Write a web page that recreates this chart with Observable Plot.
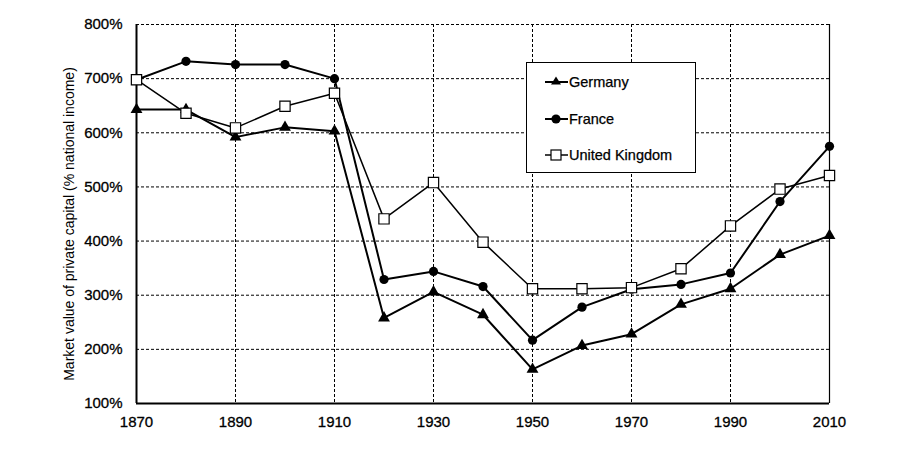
<!DOCTYPE html>
<html>
<head>
<meta charset="utf-8">
<script src="https://cdn.jsdelivr.net/npm/d3@7"></script>
<script src="https://cdn.jsdelivr.net/npm/@observablehq/plot@0.6"></script>
<style>
  html, body { margin: 0; padding: 0; background: #fff; }
  #wrap { position: relative; width: 900px; height: 450px; font-family: "Liberation Sans", Arial, sans-serif; }
  #legend { position: absolute; left: 526px; top: 62px; width: 168px; height: 109px; border: 1.5px solid #000; background: #fff; box-sizing: content-box; }
  .row { position: absolute; left: 18px; height: 20px; display: flex; align-items: center; font-size: 14.5px; color: #000; -webkit-text-stroke: 0.25px #000; }
  .row svg { margin-right: 1px; }
</style>
</head>
<body>
<div id="wrap"></div>
<script>
const years = [1870, 1880, 1890, 1900, 1910, 1920, 1930, 1940, 1950, 1960, 1970, 1980, 1990, 2000, 2010];
const germany = [643, 643, 592, 610, 603, 258, 306, 264, 163, 207, 228, 283, 312, 375, 410];
const france  = [698, 732, 726, 726, 700, 329, 344, 316, 217, 278, 311, 320, 341, 473, 575];
const uk      = [698, 636, 609, 649, 673, 441, 508, 398, 312, 312, 314, 349, 428, 496, 521];
const seriesNames = ["Germany", "France", "United Kingdom"];
const xTicks = [1870, 1890, 1910, 1930, 1950, 1970, 1990, 2010];
const yTicks = [100, 200, 300, 400, 500, 600, 700, 800];
const yLabel = "Market value of private capital (% national income)";

const toRows = (vals, name) => years.map((y, i) => ({year: y, value: vals[i], country: name}));
const gRows = toRows(germany, seriesNames[0]);
const fRows = toRows(france, seriesNames[1]);
const uRows = toRows(uk, seriesNames[2]);

const chart = Plot.plot({
  width: 900,
  height: 450,
  marginLeft: 136,
  marginRight: 71,
  marginTop: 24,
  marginBottom: 47,
  style: {fontFamily: "Liberation Sans, Arial, sans-serif", fontSize: "15px", color: "#000", background: "#fff"},
  x: {domain: [1870, 2010]},
  y: {domain: [100, 800]},
  marks: [
    Plot.gridX(xTicks, {stroke: "#000", strokeOpacity: 1, strokeWidth: 1, strokeDasharray: "3,2"}),
    Plot.gridY(yTicks, {stroke: "#000", strokeOpacity: 1, strokeWidth: 1, strokeDasharray: "3,2"}),
    Plot.axisX(xTicks, {tickSize: 0, tickPadding: 13, tickFormat: d => String(d), label: null, fontSize: 15}),
    Plot.axisY(yTicks, {tickSize: 0, tickPadding: 14, tickFormat: d => d + "%", label: null, fontSize: 15}),
    Plot.text([yLabel], {frameAnchor: "left", textAnchor: "middle", dx: -67, dy: 10, rotate: -90, fontSize: 14, fill: "#000"}),
    Plot.ruleX([2010], {stroke: "#000", strokeWidth: 1.2}),
    Plot.ruleX([1870], {stroke: "#000", strokeWidth: 2}),
    Plot.ruleY([100], {stroke: "#000", strokeWidth: 2}),
    Plot.lineY(gRows, {x: "year", y: "value", stroke: "#000", strokeWidth: 2}),
    Plot.lineY(fRows, {x: "year", y: "value", stroke: "#000", strokeWidth: 2}),
    Plot.lineY(uRows, {x: "year", y: "value", stroke: "#000", strokeWidth: 1.5}),
    Plot.dot(gRows, {x: "year", y: "value", symbol: "triangle", r: 4.4, fill: "#000", stroke: "none"}),
    Plot.dot(fRows, {x: "year", y: "value", symbol: "circle", r: 4.6, fill: "#000", stroke: "none"}),
    Plot.dot(uRows, {x: "year", y: "value", symbol: "square", r: 5.8, fill: "#fff", stroke: "#000", strokeWidth: 1.2})
  ]
});
d3.select(chart).selectAll("g[aria-label='x-axis tick label'] text, g[aria-label='y-axis tick label'] text")
  .attr("stroke", "#000").attr("stroke-width", 0.3);
document.getElementById("wrap").appendChild(chart);

// legend
const legend = document.createElement("div");
legend.id = "legend";
const symbols = [
  '<polygon points="11,4.5 16,12.5 6,12.5" fill="#000"/>',
  '<circle cx="11" cy="10" r="4.6" fill="#000"/>',
  '<rect x="6" y="5" width="10" height="10" fill="#fff" stroke="#000" stroke-width="1.2"/>'
];
const rowTops = [9, 46, 82];
seriesNames.forEach((name, i) => {
  const row = document.createElement("div");
  row.className = "row";
  row.style.top = rowTops[i] + "px";
  row.innerHTML = `<svg width="23" height="20"><line x1="0" y1="10" x2="23" y2="10" stroke="#000" stroke-width="${i === 2 ? 1.5 : 2}"/>${symbols[i]}</svg><span>${name}</span>`;
  legend.appendChild(row);
});
document.getElementById("wrap").appendChild(legend);
</script>
</body>
</html>
